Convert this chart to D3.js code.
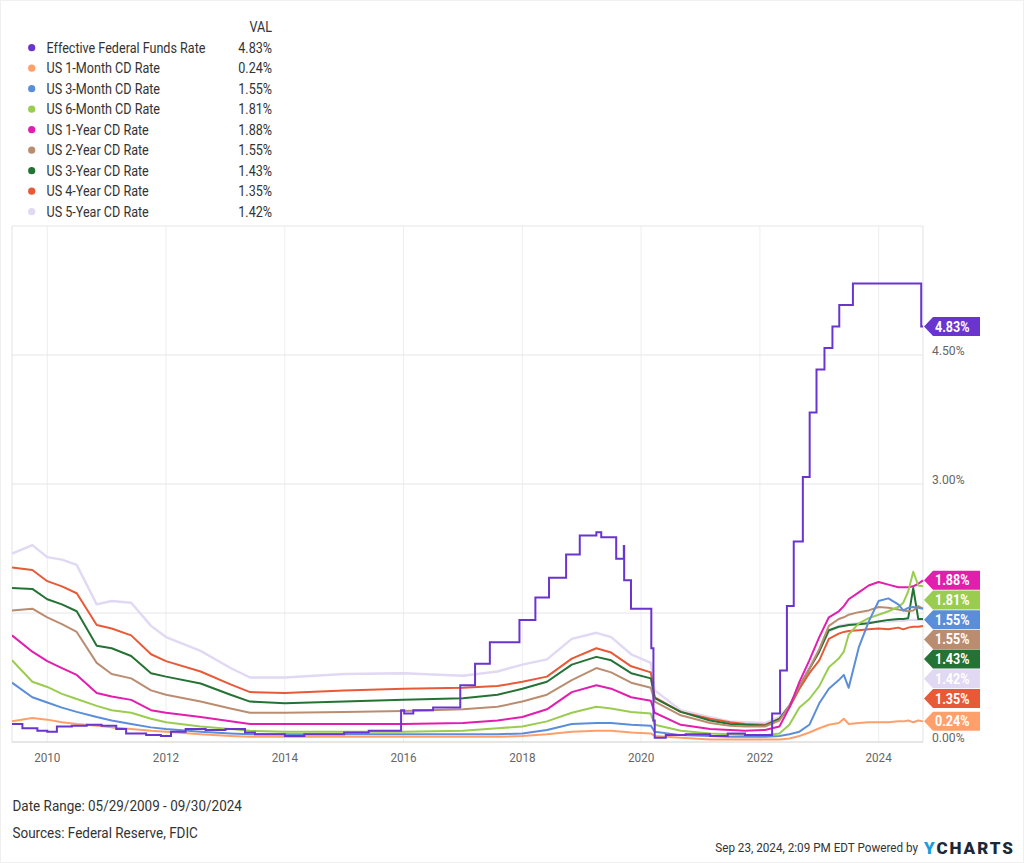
<!DOCTYPE html>
<html><head><meta charset="utf-8">
<script src="https://cdn.jsdelivr.net/npm/d3@7"></script>
<style>
body{margin:0;background:#fff;}
text{font-family:Roboto,"Noto Sans",sans-serif;}
</style>
</head><body>
<svg id="chart" width="1024" height="863"></svg>
<script>
// ---------- DATA ----------
const seriesNames = ["Effective Federal Funds Rate","US 1-Month CD Rate","US 3-Month CD Rate","US 6-Month CD Rate","US 1-Year CD Rate","US 2-Year CD Rate","US 3-Year CD Rate","US 4-Year CD Rate","US 5-Year CD Rate"];
const seriesColors = ["#6a35cf","#ffa06a","#5b8ed8","#9acd4f","#e11eae","#bb8d70","#257235","#e85a37","#e1d8f3"];
const lastValues = [4.83,0.24,1.55,1.81,1.88,1.55,1.43,1.35,1.42];

const effrDates = ["2009-05-29","2009-08-01","2009-11-01","2010-01-01","2010-03-01","2010-06-01","2010-09-01","2010-12-01","2011-03-01","2011-05-01","2011-09-01","2011-12-01","2012-02-01","2012-05-01","2012-09-01","2013-01-01","2013-05-01","2013-07-01","2014-01-01","2014-05-01","2015-01-01","2015-06-01","2015-12-17","2016-01-05","2016-03-01","2016-07-01","2016-12-15","2017-03-16","2017-06-15","2017-12-14","2018-03-22","2018-06-14","2018-09-27","2018-12-20","2019-04-01","2019-05-01","2019-08-01","2019-09-17","2019-09-19","2019-10-31","2020-03-04","2020-03-17","2020-03-25","2020-06-01","2020-10-01","2021-03-01","2021-06-17","2021-10-01","2022-03-17","2022-05-05","2022-06-16","2022-07-28","2022-09-22","2022-11-03","2022-12-15","2023-02-02","2023-03-23","2023-05-04","2023-07-27","2024-09-19","2024-09-30"];
const effrValues = [0.21,0.16,0.13,0.12,0.18,0.19,0.20,0.19,0.15,0.10,0.08,0.07,0.12,0.15,0.14,0.15,0.11,0.09,0.07,0.09,0.11,0.13,0.37,0.33,0.37,0.40,0.66,0.91,1.16,1.42,1.68,1.91,2.18,2.40,2.44,2.38,2.13,2.28,1.88,1.55,1.09,0.25,0.05,0.08,0.09,0.07,0.10,0.08,0.33,0.83,1.58,2.33,3.08,3.83,4.33,4.58,4.83,5.08,5.33,4.83,4.83];

const cdDates = ["2009-05-29","2009-10-01","2010-01-01","2010-04-01","2010-07-01","2010-11-01","2011-02-01","2011-06-01","2011-10-01","2012-01-01","2012-08-01","2013-02-01","2013-06-01","2014-01-01","2015-01-01","2016-01-01","2017-01-01","2017-08-01","2018-01-01","2018-06-01","2018-11-01","2019-04-01","2019-07-01","2019-11-01","2020-03-01","2020-03-25","2020-09-01","2021-03-01","2021-07-01","2021-10-01","2022-02-01","2022-05-01","2022-07-01","2022-09-01","2022-11-01","2023-01-01","2023-03-01","2023-05-01","2023-06-01","2023-07-01","2023-09-01","2023-11-01","2024-01-01","2024-03-01","2024-05-01","2024-06-01","2024-07-01","2024-08-01","2024-09-01","2024-09-30"];
const cd1M = [0.24,0.28,0.26,0.23,0.21,0.19,0.17,0.15,0.13,0.12,0.09,0.07,0.06,0.06,0.06,0.06,0.06,0.06,0.07,0.09,0.12,0.13,0.13,0.11,0.10,0.07,0.05,0.03,0.03,0.03,0.03,0.03, 0.04,0.07,0.11,0.16,0.20,0.22,0.27,0.21,0.22,0.23,0.23,0.23,0.24,0.24,0.25,0.23,0.25,0.24];
const cd3M = [0.69,0.52,0.46,0.40,0.35,0.29,0.25,0.21,0.17,0.15,0.12,0.10,0.09,0.09,0.09,0.09,0.09,0.09,0.10,0.14,0.21,0.22,0.22,0.20,0.19,0.12,0.08,0.07,0.06,0.06,0.06,0.07, 0.09,0.12,0.20,0.45,0.62,0.72,0.78,0.63,1.10,1.40,1.64,1.67,1.60,1.53,1.56,1.57,1.56,1.55];
const cd6M = [0.95,0.70,0.64,0.56,0.50,0.42,0.37,0.34,0.27,0.23,0.18,0.15,0.13,0.12,0.12,0.12,0.13,0.16,0.18,0.24,0.34,0.41,0.39,0.35,0.33,0.20,0.13,0.10,0.09,0.08,0.08,0.10, 0.20,0.40,0.50,0.65,0.87,0.97,1.05,1.25,1.38,1.44,1.48,1.52,1.57,1.62,1.75,1.98,1.82,1.81];
const cd1Y = [1.24,1.05,0.94,0.86,0.78,0.57,0.53,0.49,0.37,0.34,0.29,0.24,0.21,0.21,0.21,0.21,0.22,0.25,0.29,0.38,0.58,0.66,0.62,0.52,0.48,0.34,0.20,0.15,0.14,0.13,0.14,0.18, 0.40,0.70,0.95,1.22,1.45,1.52,1.58,1.66,1.74,1.82,1.86,1.83,1.80,1.80,1.80,1.81,1.84,1.88];
const cd2Y = [1.53,1.55,1.45,1.37,1.28,0.92,0.79,0.74,0.60,0.55,0.47,0.39,0.34,0.34,0.35,0.36,0.38,0.41,0.47,0.55,0.72,0.86,0.81,0.69,0.63,0.47,0.31,0.22,0.19,0.18,0.18,0.25, 0.42,0.65,0.85,1.08,1.35,1.43,1.45,1.48,1.51,1.53,1.57,1.56,1.54,1.53,1.52,1.53,1.58,1.55];
const cd3Y = [1.79,1.78,1.66,1.60,1.52,1.12,1.09,1.00,0.80,0.76,0.68,0.55,0.47,0.45,0.47,0.49,0.51,0.55,0.62,0.70,0.90,0.99,0.95,0.80,0.74,0.51,0.35,0.25,0.21,0.20,0.19,0.27, 0.42,0.65,0.85,1.05,1.30,1.34,1.35,1.36,1.37,1.38,1.40,1.42,1.43,1.43,1.44,1.79,1.43,1.43];
const cd4Y = [2.03,2.00,1.87,1.81,1.73,1.36,1.32,1.24,1.02,0.94,0.82,0.67,0.58,0.57,0.60,0.62,0.63,0.65,0.70,0.76,0.97,1.09,1.04,0.88,0.81,0.52,0.35,0.27,0.23,0.21,0.20,0.27, 0.40,0.62,0.80,0.95,1.20,1.26,1.28,1.29,1.30,1.31,1.32,1.31,1.33,1.31,1.33,1.34,1.34,1.35];
const cd5Y = [2.19,2.29,2.15,2.12,2.06,1.60,1.64,1.62,1.35,1.22,1.06,0.86,0.75,0.75,0.79,0.80,0.77,0.82,0.90,0.96,1.20,1.27,1.22,1.02,0.92,0.60,0.37,0.29,0.24,0.23,0.22,0.29, 0.42,0.63,0.88,1.08,1.28,1.35,1.36,1.37,1.38,1.39,1.40,1.40,1.41,1.41,1.42,1.42,1.42,1.42];

const yGridTicks = [0,1.5,3,4.5,6];
const yLabelTicks = [0,3,4.5];
const xTickLabels = ["2010","2012","2014","2016","2018","2020","2022","2024"];
const dateRangeText = "Date Range: 05/29/2009 - 09/30/2024";
const sourcesText = "Sources: Federal Reserve, FDIC";
const stampText = "Sep 23, 2024, 2:09 PM EDT Powered by";

// ---------- SETUP ----------
const svg = d3.select("#chart");
const parse = d3.timeParse("%Y-%m-%d");
const SX = 0.9;
const L = 12, R = 923, T = 226, B = 742;
const x = d3.scaleTime().domain([parse("2009-05-29"), parse("2024-09-30")]).range([L, R]);
const y = d3.scaleLinear().domain([0, 6]).range([B, T]);

function txt(g, px, py, str, size, fill, anchor, weight) {
  return g.append("text")
    .attr("transform", `translate(${px},${py}) scale(${SX},1)`)
    .attr("font-size", size).attr("fill", fill)
    .attr("text-anchor", anchor || "start")
    .attr("font-weight", weight || 400)
    .text(str);
}

// frame of the page
svg.append("rect").attr("x",0.5).attr("y",0.5).attr("width",1023).attr("height",862)
  .attr("fill","none").attr("stroke","#f0f0f0");

// gridlines
const grid = svg.append("g");
const xTickDates = xTickLabels.map(s => parse(s + "-01-01"));
grid.selectAll("line.v").data(xTickDates).join("line")
  .attr("x1", d => x(d)).attr("x2", d => x(d)).attr("y1", T).attr("y2", B)
  .attr("stroke", "#eeeeee").attr("stroke-width", 1);
grid.selectAll("line.h").data(yGridTicks).join("line")
  .attr("x1", L).attr("x2", R).attr("y1", d => y(d)).attr("y2", d => y(d))
  .attr("stroke", "#e6e6e6").attr("stroke-width", 1);
grid.append("line").attr("x1", L).attr("x2", L).attr("y1", T).attr("y2", B).attr("stroke", "#e3e3e3");
grid.append("line").attr("x1", R).attr("x2", R).attr("y1", T).attr("y2", B).attr("stroke", "#e3e3e3");
grid.append("line").attr("x1", L).attr("x2", R).attr("y1", B).attr("y2", B).attr("stroke", "#d9d9d9");

// x labels
const xl = svg.append("g");
xTickDates.forEach((d, i) => txt(xl, x(d), B + 20, xTickLabels[i], 13, "#666", "middle"));

// y labels
const yl = svg.append("g");
yLabelTicks.forEach(v => txt(yl, 932, y(v) - 0.5, d3.format(".2f")(v) + "%", 13.5, "#666", "start"));

// lines
svg.append("clipPath").attr("id","clip").append("rect")
  .attr("x", L).attr("y", T - 2).attr("width", R - L + 1).attr("height", B - T + 4);
const linesG = svg.append("g").attr("clip-path","url(#clip)");
const cdSeries = [cd1M, cd3M, cd6M, cd1Y, cd2Y, cd3Y, cd4Y, cd5Y];
const cdDateObjs = cdDates.map(parse);
const lineGen = d3.line().x(d => x(d[0])).y(d => y(d[1]));
for (let i = cdSeries.length - 1; i >= 0; i--) {
  const pts = cdDateObjs.map((d, j) => [d, cdSeries[i][j]]);
  linesG.append("path").datum(pts).attr("d", lineGen)
    .attr("fill", "none").attr("stroke", seriesColors[i + 1])
    .attr("stroke-width", i === 7 ? 2.4 : 2).attr("stroke-linejoin", "round");
}
const effrPts = effrDates.map((d, j) => [parse(d), effrValues[j]]);
linesG.append("path").datum(effrPts)
  .attr("d", d3.line().x(d => x(d[0])).y(d => y(d[1])).curve(d3.curveStepAfter))
  .attr("fill", "none").attr("stroke", seriesColors[0]).attr("stroke-width", 2);

// value tags (collision-resolved)
const tagOrder = d3.range(lastValues.length).sort((a, b) => lastValues[b] - lastValues[a] || a - b);
const tagGap = 19.7;
let prev = -Infinity;
const tagsG = svg.append("g");
tagOrder.forEach(i => {
  let ty = Math.max(y(lastValues[i]), prev + tagGap);
  prev = ty;
  const h = 9.5;
  tagsG.append("path")
    .attr("d", `M${R + 1},${ty} L${R + 10},${ty - h} L980,${ty - h} L980,${ty + h} L${R + 10},${ty + h} Z`)
    .attr("fill", seriesColors[i]);
  txt(tagsG, 935, ty + 5, d3.format(".2f")(lastValues[i]) + "%", 14, "#fff", "start", 700);
});

// legend
const lg = svg.append("g");
txt(lg, 272, 32, "VAL", 14, "#333", "end");
seriesNames.forEach((n, i) => {
  const cy = 47.7 + i * 20.5;
  lg.append("circle").attr("cx", 31.7).attr("cy", cy).attr("r", 3.6).attr("fill", seriesColors[i]);
  txt(lg, 46.5, cy + 5, n, 14, "#333", "start");
  txt(lg, 272, cy + 5, d3.format(".2f")(lastValues[i]) + "%", 14, "#333", "end");
});

// footer
const ft = svg.append("g");
txt(ft, 12.5, 811, dateRangeText, 15, "#333", "start");
txt(ft, 12.5, 838, sourcesText, 15, "#333", "start");
txt(ft, 918, 852, stampText, 13, "#333", "end");
const logo = ft.append("text").attr("x", 924).attr("y", 853.5)
  .attr("font-family", "Lato, 'Open Sans', sans-serif").attr("font-weight", 900)
  .attr("font-size", 17).attr("textLength", 89).attr("lengthAdjust", "spacing");
logo.append("tspan").attr("fill", "#1a9be0").text("Y");
logo.append("tspan").attr("fill", "#1b2838").text("CHARTS");
</script>
</body></html>
